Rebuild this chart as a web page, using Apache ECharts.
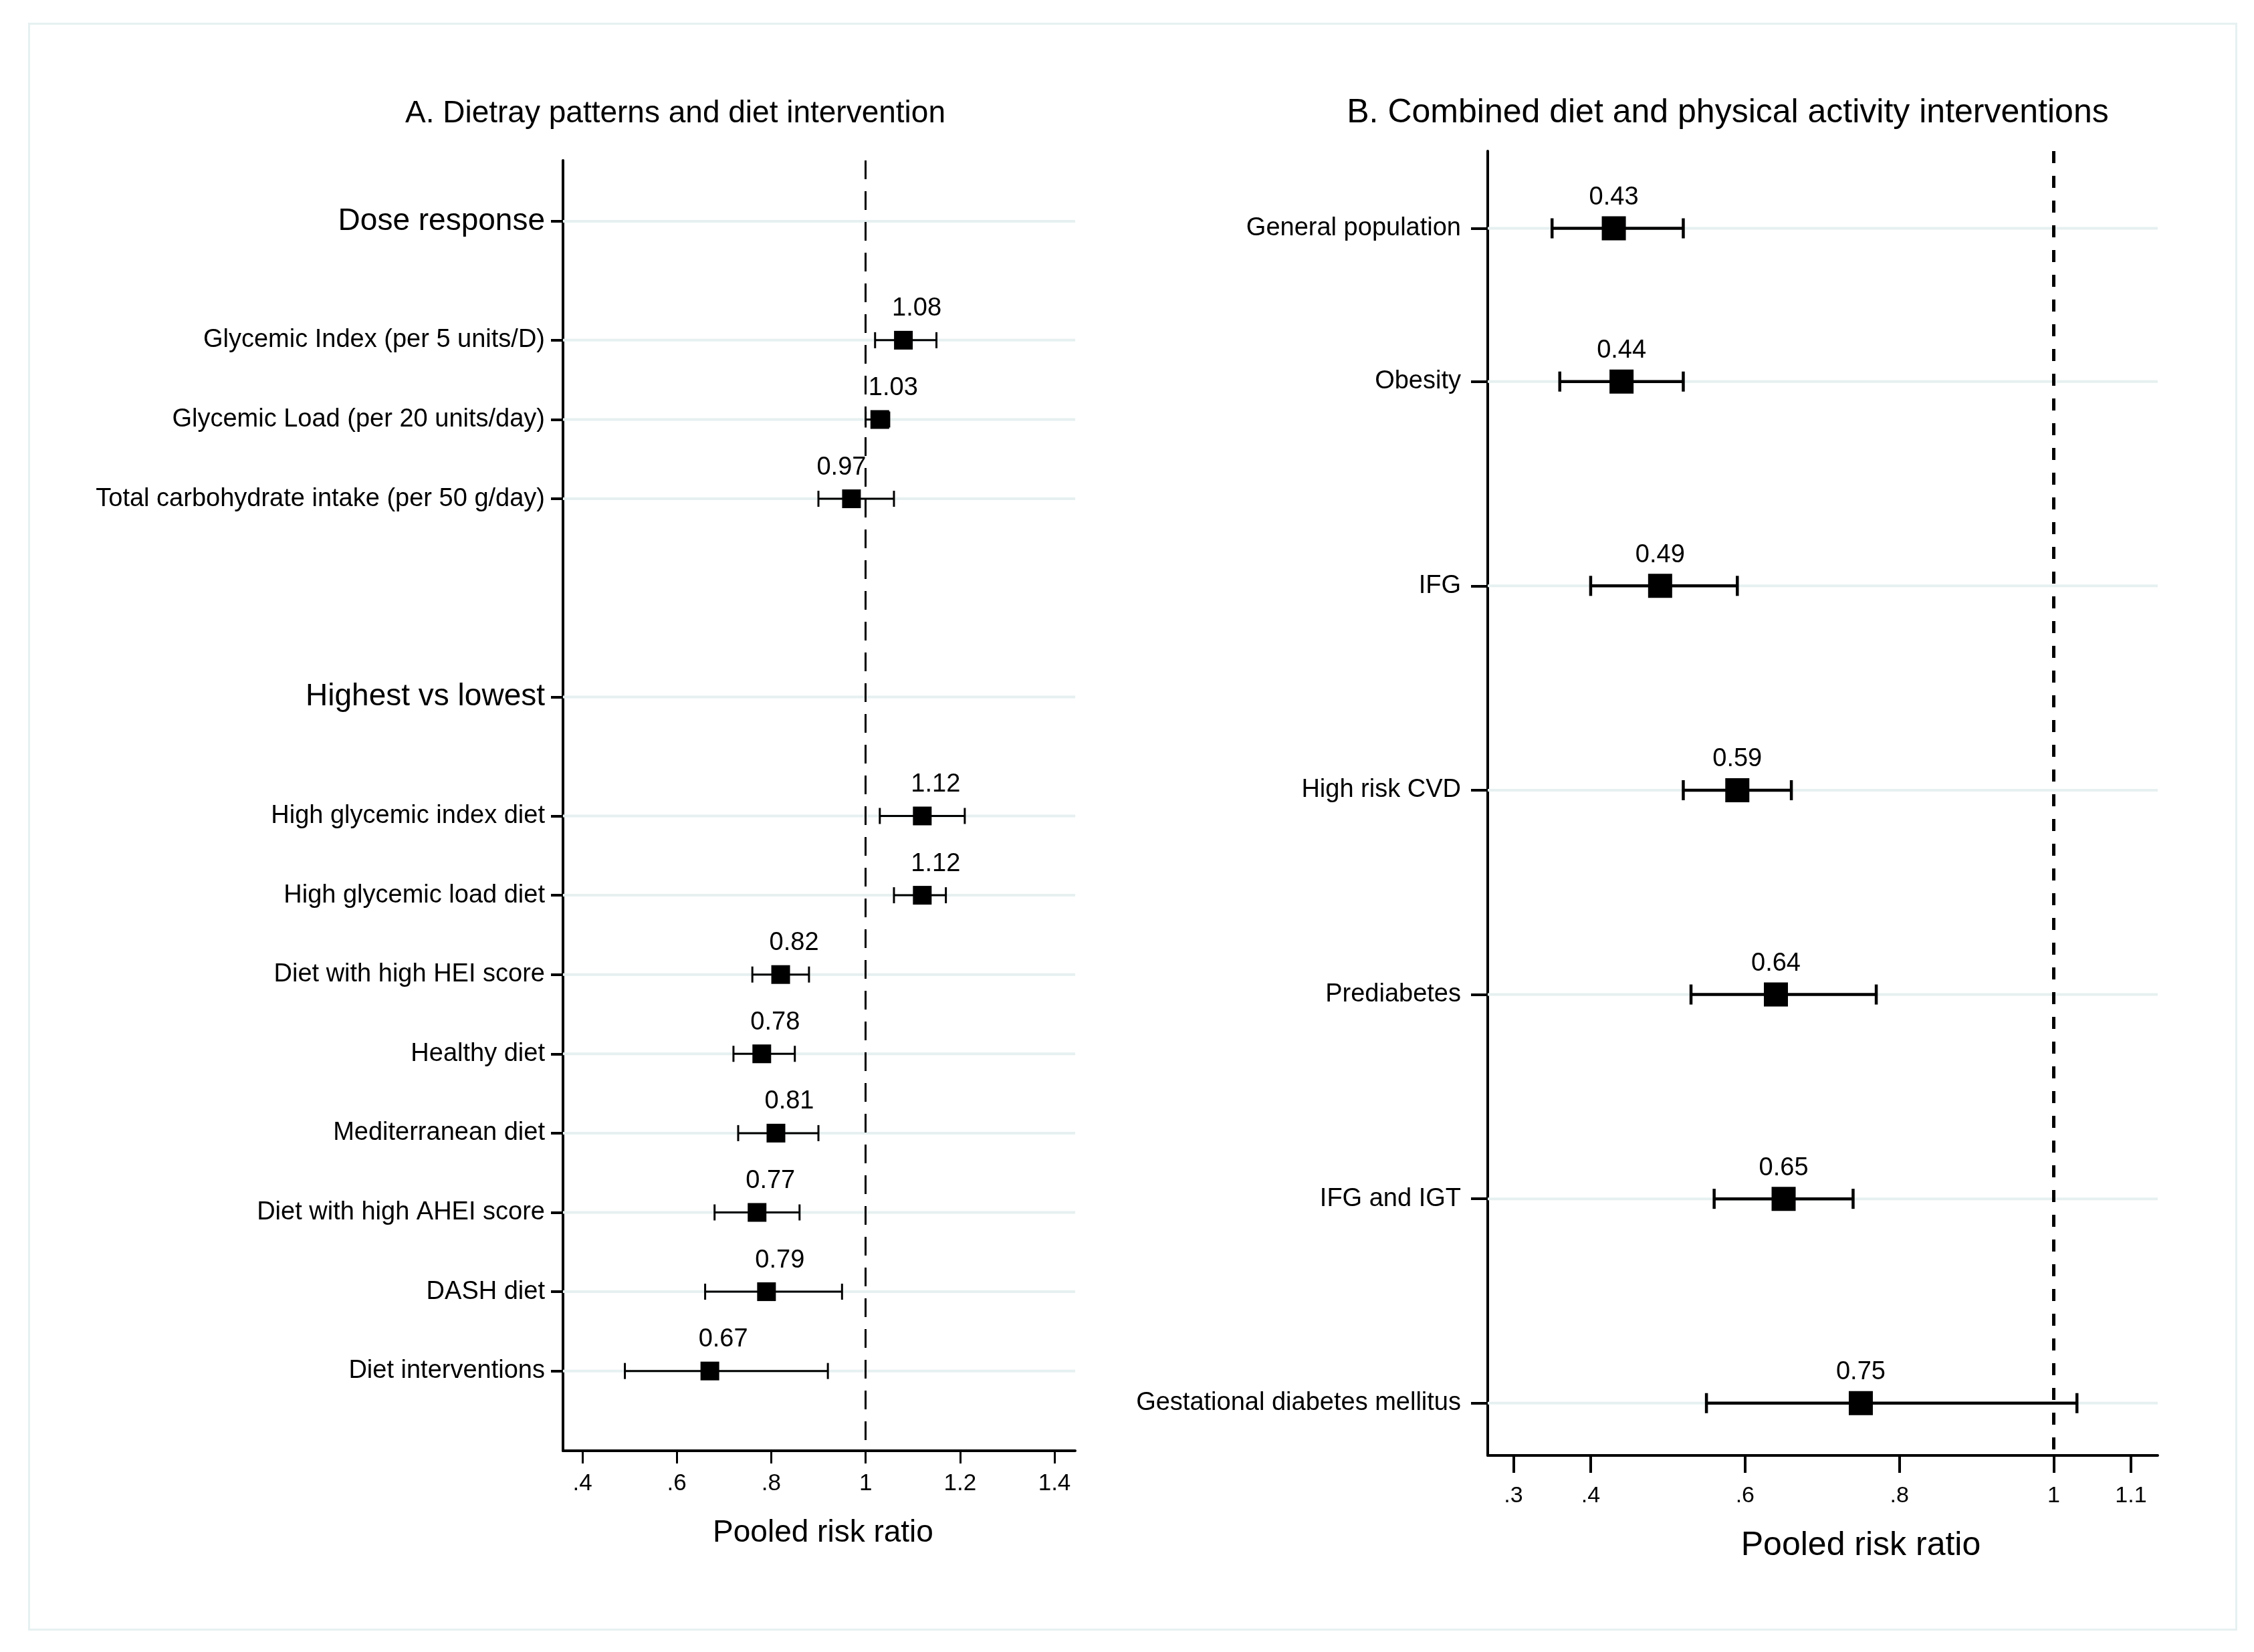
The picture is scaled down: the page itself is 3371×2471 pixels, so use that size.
<!DOCTYPE html>
<html>
<head>
<meta charset="utf-8">
<title>Pooled risk ratios</title>
<script src="https://cdn.jsdelivr.net/npm/echarts@6/dist/echarts.min.js"></script>
<style>
  html, body { margin: 0; padding: 0; background: #fff; }
  #main { width: 3371px; height: 2471px; }
</style>
</head>
<body>
<div id="main"></div>
<script>
// A. dietary patterns and diet intervention
const aLabels = [
  'Dose response',
  'Glycemic Index (per 5 units/D)',
  'Glycemic Load (per 20 units/day)',
  'Total carbohydrate intake (per 50 g/day)',
  'Highest vs lowest',
  'High glycemic index diet',
  'High glycemic load diet',
  'Diet with high HEI score',
  'Healthy diet',
  'Mediterranean diet',
  'Diet with high AHEI score',
  'DASH diet',
  'Diet interventions'
]
const aRowPos = [0, 1.5, 2.5, 3.5, 6, 7.5, 8.5, 9.5, 10.5, 11.5, 12.5, 13.5, 14.5]
const aHeader = [true, false, false, false, true, false, false, false, false, false, false, false, false]
const aRR = [null, 1.08, 1.03, 0.97, null, 1.12, 1.12, 0.82, 0.78, 0.81, 0.77, 0.79, 0.67]
const aLow = [null, 1.02, 1.00, 0.90, null, 1.03, 1.06, 0.76, 0.72, 0.73, 0.68, 0.66, 0.49]
const aHigh = [null, 1.15, 1.05, 1.06, null, 1.21, 1.17, 0.88, 0.85, 0.90, 0.86, 0.95, 0.92]
const aTicks = [0.4, 0.6, 0.8, 1, 1.2, 1.4]

// B. combined diet and physical activity interventions
const bLabels = [
  'General population',
  'Obesity',
  'IFG',
  'High risk CVD',
  'Prediabetes',
  'IFG and IGT',
  'Gestational diabetes mellitus'
]
const bRowPos = [0, 0.75, 1.75, 2.75, 3.75, 4.75, 5.75]
const bRR = [0.43, 0.44, 0.49, 0.59, 0.64, 0.65, 0.75]
const bLow = [0.35, 0.36, 0.40, 0.52, 0.53, 0.56, 0.55]
const bHigh = [0.52, 0.52, 0.59, 0.66, 0.77, 0.74, 1.03]
const bTicks = [0.3, 0.4, 0.6, 0.8, 1, 1.1]

const FONT = '"Liberation Sans", Arial, Helvetica, sans-serif'
const GRID_COLOR = '#e6f0f0'

var myChart = echarts.init(document.getElementById('main'))

// 去掉前导0: 0.4 -> .4
function tickText (v) {
  let s = String(v)
  return s.indexOf('0.') === 0 ? s.slice(1) : s
}

function rowName (labels, pos, v, headers) {
  let i = pos.indexOf(v)
  if (i < 0) return ''
  return headers && headers[i] ? '{h|' + labels[i] + '}' : labels[i]
}

// 误差线 (CI) 数据
function ciData (rr, lo, hi, pos) {
  let out = []
  for (let i = 0; i < rr.length; i++) {
    if (rr[i] == null) continue
    out.push([lo[i], hi[i], pos[i]])
  }
  return out
}

function pointData (rr, pos) {
  let out = []
  for (let i = 0; i < rr.length; i++) {
    if (rr[i] == null) continue
    out.push({ value: [rr[i], pos[i]], idx: i })
  }
  return out
}

function ciRender (lineWidth, capHalf) {
  return function (params, api) {
    let y = api.value(2)
    let p1 = api.coord([api.value(0), y])
    let p2 = api.coord([api.value(1), y])
    let st = { stroke: '#000', lineWidth: lineWidth }
    return {
      type: 'group',
      children: [
        { type: 'line', shape: { x1: p1[0], y1: p1[1], x2: p2[0], y2: p2[1] }, style: st },
        { type: 'line', shape: { x1: p1[0], y1: p1[1] - capHalf, x2: p1[0], y2: p1[1] + capHalf }, style: st },
        { type: 'line', shape: { x1: p2[0], y1: p2[1] - capHalf, x2: p2[0], y2: p2[1] + capHalf }, style: st }
      ]
    }
  }
}

function gridRender (params, api) {
  let cs = params.coordSys
  let y = api.coord([1, api.value(0)])[1]
  return {
    type: 'line',
    shape: { x1: cs.x, y1: y, x2: cs.x + cs.width, y2: y },
    style: { stroke: GRID_COLOR, lineWidth: 4 }
  }
}

// 0.97 的标签在原图中放在方块左侧
const aLabelShift = { 3: -15 }

var option = {
  backgroundColor: '#fff',
  animation: false,
  textStyle: { fontFamily: FONT },
  graphic: [
    {
      type: 'rect',
      shape: { x: 43.5, y: 35.5, width: 3301, height: 2402 },
      style: { fill: 'none', stroke: GRID_COLOR, lineWidth: 3 },
      silent: true
    },
    {
      type: 'text', x: 1010, y: 170,
      style: { text: 'A. Dietray patterns and diet intervention', font: '46px ' + FONT, fill: '#000', textAlign: 'center', textVerticalAlign: 'middle' }
    },
    {
      type: 'text', x: 2584, y: 169,
      style: { text: 'B. Combined diet and physical activity interventions', font: '50px ' + FONT, fill: '#000', textAlign: 'center', textVerticalAlign: 'middle' }
    },
    {
      type: 'text', x: 1231, y: 2293,
      style: { text: 'Pooled risk ratio', font: '46px ' + FONT, fill: '#000', textAlign: 'center', textVerticalAlign: 'middle' }
    },
    {
      type: 'text', x: 2783, y: 2312,
      style: { text: 'Pooled risk ratio', font: '50px ' + FONT, fill: '#000', textAlign: 'center', textVerticalAlign: 'middle' }
    }
  ],
  grid: [
    { left: 842, top: 240, width: 766, height: 1930 },
    { left: 2225, top: 226, width: 1002, height: 1951 }
  ],
  xAxis: [
    {
      gridIndex: 0, type: 'value', min: 0.3589, max: 1.4439,
      axisLine: { onZero: false, lineStyle: { color: '#000', width: 4 } },
      axisTick: { customValues: aTicks, length: 19, lineStyle: { color: '#000', width: 3 } },
      axisLabel: { customValues: aTicks, formatter: tickText, fontSize: 35, color: '#000', margin: 32, fontFamily: FONT },
      splitLine: { show: false }
    },
    {
      gridIndex: 1, type: 'value', min: 0.26665, max: 1.13465,
      axisLine: { onZero: false, lineStyle: { color: '#000', width: 4 } },
      axisTick: { customValues: bTicks, length: 26, lineStyle: { color: '#000', width: 4 } },
      axisLabel: { customValues: bTicks, formatter: tickText, fontSize: 34, color: '#000', margin: 44, fontFamily: FONT },
      splitLine: { show: false }
    }
  ],
  yAxis: [
    {
      gridIndex: 0, type: 'value', inverse: true, min: -0.767, max: 15.506,
      axisLine: { onZero: false, lineStyle: { color: '#000', width: 4 } },
      axisTick: { customValues: aRowPos, length: 18, lineStyle: { color: '#000', width: 4 } },
      axisLabel: {
        customValues: aRowPos,
        formatter: function (v) { return rowName(aLabels, aRowPos, v, aHeader) },
        fontSize: 38, color: '#000', margin: 27, fontFamily: FONT,
        rich: { h: { fontSize: 46, color: '#000', fontFamily: FONT } }
      },
      splitLine: { show: false }
    },
    {
      gridIndex: 1, type: 'value', inverse: true, min: -0.378, max: 6.006,
      axisLine: { onZero: false, lineStyle: { color: '#000', width: 4 } },
      axisTick: { customValues: bRowPos, length: 25, lineStyle: { color: '#000', width: 4 } },
      axisLabel: {
        customValues: bRowPos,
        formatter: function (v) { return rowName(bLabels, bRowPos, v) },
        fontSize: 38, color: '#000', margin: 40, fontFamily: FONT
      },
      splitLine: { show: false }
    }
  ],
  series: [
    // 面板A
    {
      type: 'custom', xAxisIndex: 0, yAxisIndex: 0, z: 1, silent: true,
      data: aRowPos.map(function (p) { return [p] }),
      encode: { y: 0 },
      renderItem: gridRender,
      markLine: {
        silent: true, symbol: ['none', 'none'], label: { show: false },
        lineStyle: { color: '#000', width: 3, type: [28, 18] },
        data: [{ xAxis: 1 }]
      }
    },
    {
      type: 'custom', xAxisIndex: 0, yAxisIndex: 0, z: 3, silent: true,
      data: ciData(aRR, aLow, aHigh, aRowPos),
      encode: { x: [0, 1], y: 2 },
      renderItem: ciRender(3, 12)
    },
    {
      type: 'scatter', xAxisIndex: 0, yAxisIndex: 0, z: 4, silent: true,
      symbol: 'rect', symbolSize: 28,
      itemStyle: { color: '#000', opacity: 1 },
      data: pointData(aRR, aRowPos).map(function (d) {
        let dx = aLabelShift[d.idx] != null ? aLabelShift[d.idx] : 20
        return { value: d.value, label: { offset: [dx, 0] } }
      }),
      label: {
        show: true, position: 'top', distance: 14,
        formatter: function (p) { return p.value[0].toFixed(2) },
        fontSize: 38, color: '#000', fontFamily: FONT
      }
    },
    // 面板B
    {
      type: 'custom', xAxisIndex: 1, yAxisIndex: 1, z: 1, silent: true,
      data: bRowPos.map(function (p) { return [p] }),
      encode: { y: 0 },
      renderItem: gridRender,
      markLine: {
        silent: true, symbol: ['none', 'none'], label: { show: false },
        lineStyle: { color: '#000', width: 5, type: [18, 19] },
        data: [{ xAxis: 1 }]
      }
    },
    {
      type: 'custom', xAxisIndex: 1, yAxisIndex: 1, z: 3, silent: true,
      data: ciData(bRR, bLow, bHigh, bRowPos),
      encode: { x: [0, 1], y: 2 },
      renderItem: ciRender(4.5, 15)
    },
    {
      type: 'scatter', xAxisIndex: 1, yAxisIndex: 1, z: 4, silent: true,
      symbol: 'rect', symbolSize: 36,
      itemStyle: { color: '#000', opacity: 1 },
      data: pointData(bRR, bRowPos).map(function (d) { return d.value }),
      label: {
        show: true, position: 'top', distance: 9,
        formatter: function (p) { return p.value[0].toFixed(2) },
        fontSize: 38, color: '#000', fontFamily: FONT
      }
    }
  ]
}

myChart.setOption(option)
</script>
</body>
</html>
